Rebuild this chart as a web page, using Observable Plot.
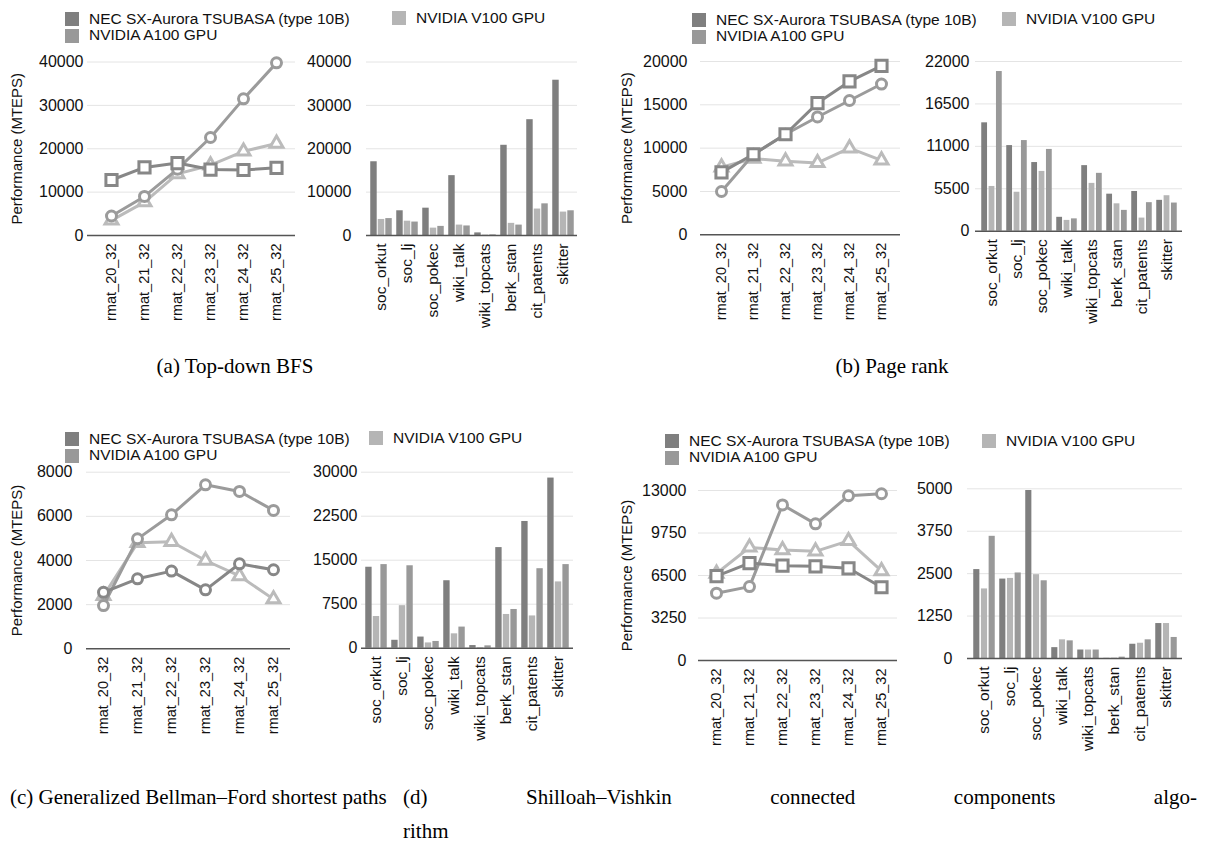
<!DOCTYPE html>
<html><head><meta charset="utf-8">
<script src="https://cdn.jsdelivr.net/npm/d3@7"></script>
<script src="https://cdn.jsdelivr.net/npm/@observablehq/plot@0.6"></script>
<style>
body{margin:0;background:#fff;}
#root{position:relative;width:1207px;height:850px;overflow:hidden;background:#fff;font-family:"Liberation Sans",Arial,Helvetica,sans-serif;color:#111;}
.sw{position:absolute;width:14px;height:14px;}
.lg{position:absolute;font-size:15.5px;line-height:18px;white-space:nowrap;color:#111;}
.cap{position:absolute;font-family:"Liberation Serif","Times New Roman",serif;font-size:21px;line-height:26px;white-space:nowrap;color:#000;}
</style></head><body><div id="root"></div>
<script>
// ---------- data ----------
const lineCats = ["rmat_20_32","rmat_21_32","rmat_22_32","rmat_23_32","rmat_24_32","rmat_25_32"];
const barCats = ["soc_orkut","soc_lj","soc_pokec","wiki_talk","wiki_topcats","berk_stan","cit_patents","skitter"];
const seriesNames = ["NEC SX-Aurora TSUBASA (type 10B)","NVIDIA A100 GPU","NVIDIA V100 GPU"];
const yTitle = "Performance (MTEPS)";
const captions = ["(a) Top-down BFS","(b) Page rank","(c) Generalized Bellman–Ford shortest paths","(d) Shilloah–Vishkin connected components algo-","rithm"];

// (a) Top-down BFS
const bfsLineNEC  = [12800, 15700, 16700, 15200, 15100, 15600];
const bfsLineA100 = [4500, 9000, 15300, 22600, 31500, 39800];
const bfsLineV100 = [3500, 7700, 14200, 16200, 19400, 21200];
const bfsBarNEC  = [17000, 5700, 6300, 13800, 600, 20800, 26700, 35800];
const bfsBarV100 = [3700, 3300, 1700, 2400, 100, 2800, 6100, 5400];
const bfsBarA100 = [3900, 3100, 2100, 2200, 150, 2400, 7300, 5700];
const bfsLineTicks = [0, 10000, 20000, 30000, 40000];
const bfsBarTicks  = [0, 10000, 20000, 30000, 40000];

// (b) Page rank
const prLineNEC  = [7200, 9300, 11600, 15200, 17700, 19500];
const prLineA100 = [5000, 9300, 11600, 13600, 15500, 17400];
const prLineV100 = [7800, 8800, 8500, 8300, 10000, 8600];
const prBarNEC  = [14050, 11100, 8900, 1800, 8500, 4800, 5150, 4000];
const prBarV100 = [5800, 5050, 7750, 1400, 6200, 3550, 1700, 4600];
const prBarA100 = [20700, 11750, 10600, 1600, 7500, 2700, 3700, 3650];
const prLineTicks = [0, 5000, 10000, 15000, 20000];
const prBarTicks  = [0, 5500, 11000, 16500, 22000];

// (c) Generalized Bellman-Ford
const ssspLineNEC  = [2560, 3170, 3520, 2670, 3850, 3580];
const ssspLineA100 = [1960, 4980, 6070, 7430, 7130, 6270];
const ssspLineV100 = [2400, 4800, 4850, 4000, 3300, 2250];
const ssspBarNEC  = [13800, 1350, 1900, 11500, 450, 17150, 21600, 29000];
const ssspBarV100 = [5400, 7250, 900, 2450, 100, 5750, 5500, 11300];
const ssspBarA100 = [14250, 14050, 1150, 3600, 400, 6600, 13550, 14250];
const ssspLineTicks = [0, 2000, 4000, 6000, 8000];
const ssspBarTicks  = [0, 7500, 15000, 22500, 30000];

// (d) Shiloach-Vishkin CC
const ccLineNEC  = [6450, 7450, 7250, 7200, 7050, 5600];
const ccLineA100 = [5150, 5650, 11900, 10450, 12600, 12750];
const ccLineV100 = [6650, 8650, 8450, 8350, 9150, 6850];
const ccBarNEC  = [2620, 2340, 4950, 320, 250, 5, 420, 1030];
const ccBarV100 = [2050, 2360, 2470, 550, 250, 10, 450, 1030];
const ccBarA100 = [3600, 2520, 2290, 520, 250, 40, 550, 620];
const ccLineTicks = [0, 3250, 6500, 9750, 13000];
const ccBarTicks  = [0, 1250, 2500, 3750, 5000];

// ---------- style ----------
const FONT = '"Liberation Sans", Arial, Helvetica, sans-serif';
const BAR = {nec: "#7f7f7f", a100: "#999999", v100: "#b5b5b5"};
const LINE = {nec: "#878787", a100: "#9b9b9b", v100: "#bbbbbb"};
const GRID = "#e4e4e4", AXIS = "#555555";
const root = document.getElementById("root");

function place(el, left, top) {
  el.style.position = "absolute";
  el.style.left = left + "px";
  el.style.top = top + "px";
  root.appendChild(el);
}

function lineChart(cfg) {
  const [L, T, W, H] = cfg.box, [x0, x1] = cfg.fx, [y0, y1] = cfg.fy, [p0, p1] = cfg.px;
  const ticks = cfg.ticks;
  const rows = lineCats.map((c, i) => ({cat: c, nec: cfg.nec[i], a100: cfg.a100[i], v100: cfg.v100[i]}));
  const series = [
    ["v100", "triangle", 4.8],
    ["a100", "circle", 5],
    ["nec", cfg.necSymbol, cfg.necSymbol === "square" ? 6.3 : 5]
  ];
  const marks = [
    Plot.ruleY(ticks.filter(t => t > 0), {stroke: GRID, strokeWidth: 1}),
    Plot.ruleY([0], {stroke: AXIS, strokeWidth: 1.5}),
    Plot.axisY(ticks, {tickSize: 0, tickPadding: x0 - cfg.labelRight, tickFormat: d => String(d), label: null, fontSize: 16}),
    Plot.text([yTitle], {text: d => d, frameAnchor: "left", rotate: -90, dx: cfg.titleX - x0, fontSize: 15, textAnchor: "middle", lineAnchor: "middle", fill: "#111"}),
    Plot.text(lineCats, {x: d => d, text: d => d, frameAnchor: "bottom", rotate: -90, textAnchor: "end", lineAnchor: "middle", dy: 8, fontSize: 14.5, fill: "#111"})
  ];
  for (const [k, sym, r] of series) {
    marks.push(Plot.line(rows, {x: "cat", y: k, stroke: LINE[k], strokeWidth: 3, strokeLinejoin: "round"}));
    marks.push(Plot.dot(rows, {x: "cat", y: k, symbol: sym, r, fill: "white", stroke: LINE[k], strokeWidth: 3}));
  }
  const svg = Plot.plot({
    width: W, height: H,
    marginLeft: x0 - L, marginRight: L + W - x1, marginTop: y0 - T, marginBottom: T + H - y1,
    x: {type: "point", domain: lineCats, range: [p0 - L, p1 - L], axis: null},
    y: {domain: [0, ticks[ticks.length - 1]]},
    style: {fontFamily: FONT, fontSize: "16px", color: "#111", background: "none", overflow: "visible"},
    marks
  });
  place(svg, L, T);
}

function barChart(cfg) {
  const [L, T, W, H] = cfg.box, [x0, x1] = cfg.fx, [y0, y1] = cfg.fy;
  const ticks = cfg.ticks;
  const rows = barCats.map((c, i) => ({cat: c, nec: cfg.nec[i], v100: cfg.v100[i], a100: cfg.a100[i]}));
  const bw = (x1 - x0) / barCats.length;
  const pad = 1.9, w = (bw - 2 * pad) / 3, gap = 0.35;
  const order = ["nec", "v100", "a100"];
  const marks = [Plot.ruleY(ticks.filter(t => t > 0), {stroke: GRID, strokeWidth: 1})];
  order.forEach((k, j) => {
    marks.push(Plot.barY(rows, {x: "cat", y: k, fill: BAR[k],
      insetLeft: pad + j * w + gap, insetRight: bw - pad - (j + 1) * w + gap}));
  });
  marks.push(
    Plot.ruleY([0], {stroke: AXIS, strokeWidth: 1.5}),
    Plot.axisY(ticks, {tickSize: 0, tickPadding: x0 - cfg.labelRight, tickFormat: d => String(d), label: null, fontSize: 16}),
    Plot.text(barCats, {x: d => d, text: d => d, frameAnchor: "bottom", rotate: -90, textAnchor: "end", lineAnchor: "middle", dy: 8, fontSize: 15.5, fill: "#111"})
  );
  const svg = Plot.plot({
    width: W, height: H,
    marginLeft: x0 - L, marginRight: L + W - x1, marginTop: y0 - T, marginBottom: T + H - y1,
    x: {type: "band", domain: barCats, padding: 0, axis: null},
    y: {domain: [0, ticks[ticks.length - 1]]},
    style: {fontFamily: FONT, fontSize: "16px", color: "#111", background: "none", overflow: "visible"},
    marks
  });
  place(svg, L, T);
}

function legend(necX, necY, v100X, v100Y) {
  const items = [
    [necX, necY, BAR.nec, seriesNames[0]],
    [necX, necY + 16.5, BAR.a100, seriesNames[1]],
    [v100X, v100Y, BAR.v100, seriesNames[2]]
  ];
  for (const [x, y, col, name] of items) {
    const sw = document.createElement("div");
    sw.className = "sw"; sw.style.background = col;
    place(sw, x, y - 7);
    const t = document.createElement("div");
    t.className = "lg"; t.textContent = name;
    place(t, x + 24, y - 9.5);
  }
}

function caption(text, left, top, width, align) {
  const d = document.createElement("div");
  d.className = "cap";
  d.textContent = text;
  if (width) { d.style.width = width + "px"; }
  if (align) { d.style.textAlign = align; }
  if (align === "justify") { d.style.whiteSpace = "normal"; d.style.textAlignLast = "justify"; }
  place(d, left, top);
}

// ---------- panels ----------
lineChart({box: [0, 0, 300, 340], fx: [87, 295], fy: [61.5, 235], px: [93, 293], ticks: bfsLineTicks,
  labelRight: 83, titleX: 17, nec: bfsLineNEC, a100: bfsLineA100, v100: bfsLineV100, necSymbol: "square"});
barChart({box: [296, 0, 300, 340], fx: [366, 577], fy: [61.5, 235], ticks: bfsBarTicks, labelRight: 351,
  nec: bfsBarNEC, v100: bfsBarV100, a100: bfsBarA100});
legend(65, 19, 392, 18);

lineChart({box: [600, 0, 305, 340], fx: [700, 900], fy: [61, 234.3], px: [702, 899], ticks: prLineTicks,
  labelRight: 687, titleX: 627, nec: prLineNEC, a100: prLineA100, v100: prLineV100, necSymbol: "square"});
barChart({box: [905, 0, 295, 340], fx: [975, 1182], fy: [61, 230.7], ticks: prBarTicks, labelRight: 969,
  nec: prBarNEC, v100: prBarV100, a100: prBarA100});
legend(692, 20, 1002, 19);

lineChart({box: [0, 420, 295, 340], fx: [86, 290], fy: [471.7, 648.3], px: [86, 290], ticks: ssspLineTicks,
  labelRight: 72, titleX: 17, nec: ssspLineNEC, a100: ssspLineA100, v100: ssspLineV100, necSymbol: "circle"});
barChart({box: [295, 420, 300, 340], fx: [361, 573], fy: [471.7, 647.7], ticks: ssspBarTicks, labelRight: 357,
  nec: ssspBarNEC, v100: ssspBarV100, a100: ssspBarA100});
legend(65, 439, 369, 438);

lineChart({box: [600, 420, 300, 340], fx: [698, 897], fy: [490, 660], px: [699, 898], ticks: ccLineTicks,
  labelRight: 686, titleX: 627, nec: ccLineNEC, a100: ccLineA100, v100: ccLineV100, necSymbol: "square"});
barChart({box: [900, 420, 300, 340], fx: [967, 1182], fy: [488.3, 658], ticks: ccBarTicks, labelRight: 952,
  nec: ccBarNEC, v100: ccBarV100, a100: ccBarA100});
legend(665, 441, 982, 441);

caption(captions[0], 0, 353, 470, "center");
caption(captions[1], 600, 353, 584, "center");
caption(captions[2], 10, 784);
caption(captions[3], 403, 784, 794, "justify");
caption(captions[4], 403, 818);
</script></body></html>
